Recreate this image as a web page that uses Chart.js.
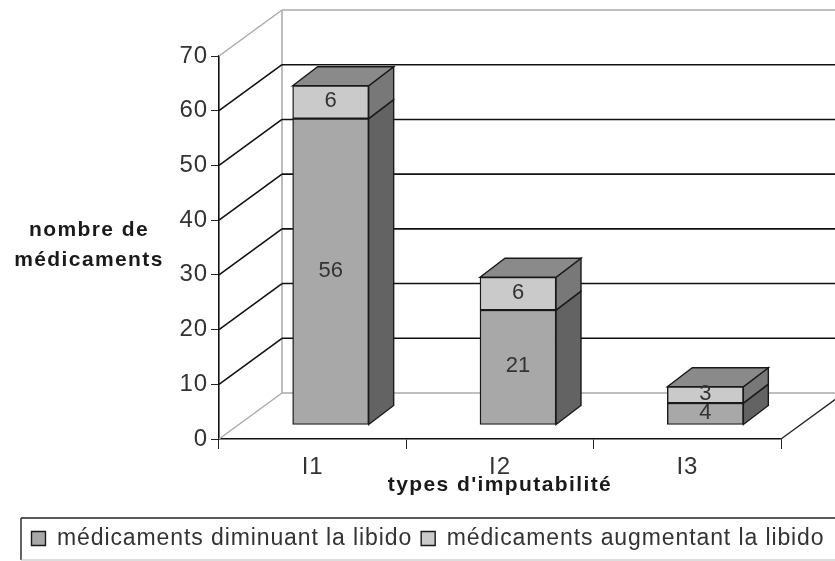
<!DOCTYPE html>
<html lang="fr">
<head>
<meta charset="utf-8">
<title>types d'imputabilité</title>
<script src="https://cdn.jsdelivr.net/npm/chart.js@4"></script>
<style>
  html, body { margin: 0; padding: 0; background: #fff; }
  canvas { display: block; }
</style>
</head>
<body>
<canvas id="chart" width="835" height="561"></canvas>
<script>
// data
const categories = ["I1", "I2", "I3"];
const diminuant = [56, 21, 4];
const augmentant = [6, 6, 3];
const seriesNames = ["médicaments diminuant la libido", "médicaments augmentant la libido"];
const yMax = 70;
const yStep = 10;
const yTitleLines = ["nombre de", "médicaments"];
const xTitle = "types d'imputabilité";

// fake 3D geometry
const WALL = { dx: 63, dy: -46 };
const BAR_SHIFT = { dx: 18, dy: -14 };
const DEPTH = { dx: 25, dy: -19 };
const FONT = '"Liberation Sans", Arial, sans-serif';
const INK = "#333";
const LEGEND_SPACING = "0.9px";

function line(ctx, x1, y1, x2, y2, color, width) {
  ctx.strokeStyle = color;
  ctx.lineWidth = width;
  ctx.beginPath();
  ctx.moveTo(x1, y1);
  ctx.lineTo(x2, y2);
  ctx.stroke();
}

function face(ctx, pts, fill) {
  ctx.fillStyle = fill;
  ctx.strokeStyle = "#1a1a1a";
  ctx.lineWidth = 1.4;
  ctx.beginPath();
  pts.forEach((p, i) => (i ? ctx.lineTo(p[0], p[1]) : ctx.moveTo(p[0], p[1])));
  ctx.closePath();
  ctx.fill();
  ctx.stroke();
}

const walls3d = {
  id: "walls3d",
  beforeLayout(chart) {
    chart.ctx.letterSpacing = LEGEND_SPACING;
  },
  beforeDatasetsDraw(chart) {
    const { ctx, scales } = chart;
    const y = scales.y;
    const left = chart.chartArea.left;
    const right = chart.chartArea.right;
    const backLeft = left + WALL.dx;
    ctx.save();
    line(ctx, backLeft, y.getPixelForValue(yMax) + WALL.dy, backLeft, y.getPixelForValue(0) + WALL.dy, "#999", 1.3);
    y.ticks.forEach((t) => {
      const py = y.getPixelForValue(t.value);
      const edge = t.value === 0 || t.value === yMax;
      const color = edge ? "#aaa" : "#111";
      const w = edge ? 1.5 : 1.6;
      line(ctx, left, py, backLeft, py + WALL.dy, color, w);
      line(ctx, backLeft, py + WALL.dy, chart.width, py + WALL.dy, color, w);
    });
    // right edge of the floor
    const floorY = y.getPixelForValue(0);
    line(ctx, right, floorY, right + WALL.dx, floorY + WALL.dy, "#222", 1.3);
    ctx.restore();

    // side and top faces, then the front bars get drawn shifted
    ctx.save();
    ctx.translate(BAR_SHIFT.dx, BAR_SHIFT.dy);
    const sides = ["#636363", "#787878"];
    chart.data.datasets.forEach((ds, di) => {
      chart.getDatasetMeta(di).data.forEach((el) => {
        const xr = el.x + el.width / 2;
        face(ctx, [[xr, el.base], [xr + DEPTH.dx, el.base + DEPTH.dy], [xr + DEPTH.dx, el.y + DEPTH.dy], [xr, el.y]], sides[di]);
      });
    });
    const lastMeta = chart.getDatasetMeta(chart.data.datasets.length - 1);
    lastMeta.data.forEach((el) => {
      const xl = el.x - el.width / 2;
      const xr = el.x + el.width / 2;
      face(ctx, [[xl, el.y], [xr, el.y], [xr + DEPTH.dx, el.y + DEPTH.dy], [xl + DEPTH.dx, el.y + DEPTH.dy]], "#8a8a8a");
    });
  },
  afterDatasetsDraw(chart) {
    const { ctx } = chart;
    // still inside the translate from beforeDatasetsDraw
    ctx.fillStyle = INK;
    ctx.font = "22px " + FONT;
    ctx.letterSpacing = "0px";
    ctx.textAlign = "center";
    ctx.textBaseline = "middle";
    chart.data.datasets.forEach((ds, di) => {
      chart.getDatasetMeta(di).data.forEach((el, i) => {
        ctx.fillText(String(ds.data[i]), el.x, (el.y + el.base) / 2 - 1);
      });
    });
    ctx.restore();
    ctx.letterSpacing = LEGEND_SPACING;
  },
  afterDraw(chart) {
    const { ctx, scales, legend } = chart;
    ctx.save();
    // axis titles
    ctx.fillStyle = "#1a1a1a";
    ctx.font = "bold 21px " + FONT;
    ctx.letterSpacing = "1.4px";
    ctx.textAlign = "center";
    ctx.textBaseline = "middle";
    ctx.fillText(xTitle, (scales.x.left + scales.x.right) / 2, scales.x.top + 46);
    yTitleLines.forEach((txt, i) => {
      ctx.fillText(txt, 89, scales.y.getPixelForValue(35) - 17 + i * 30);
    });
    ctx.letterSpacing = "0px";
    // legend frame: the scan cuts it off on the right
    const top = legend.top;
    const bottom = legend.bottom;
    line(ctx, legend.left, top, chart.width, top, "#222", 1.6);
    line(ctx, legend.left, top, legend.left, bottom, "#222", 1.4);
    line(ctx, legend.left, bottom, chart.width, bottom, "#bbb", 1.2);
    ctx.restore();
  }
};

new Chart(document.getElementById("chart"), {
  type: "bar",
  data: {
    labels: categories,
    datasets: [
      {
        label: seriesNames[0],
        data: diminuant,
        backgroundColor: "#a8a8a8",
        borderColor: "#1a1a1a",
        borderWidth: 1.4
      },
      {
        label: seriesNames[1],
        data: augmentant,
        backgroundColor: "#cacaca",
        borderColor: "#1a1a1a",
        borderWidth: 1.4
      }
    ]
  },
  plugins: [walls3d],
  options: {
    responsive: false,
    animation: false,
    layout: { padding: { left: 21, top: 56, right: 0, bottom: 1 } },
    datasets: { bar: { barThickness: 76, borderSkipped: false, clip: false } },
    plugins: {
      tooltip: { enabled: false },
      legend: {
        position: "bottom",
        onClick: null,
        labels: {
          color: INK,
          font: { family: FONT, size: 23 },
          boxWidth: 14,
          boxHeight: 14,
          padding: 9
        }
      }
    },
    scales: {
      x: {
        stacked: true,
        afterFit: (s) => { s.height = 79; },
        grid: { drawOnChartArea: false, color: "#222", tickLength: 10, offset: true },
        border: { color: "#111", width: 1.6 },
        ticks: { color: INK, font: { family: FONT, size: 24 }, padding: 4, maxRotation: 0 }
      },
      y: {
        stacked: true,
        min: 0,
        max: yMax,
        afterFit: (s) => { s.width = 198; },
        grid: { drawOnChartArea: false, color: "#222", tickLength: 8 },
        border: { color: "#111", width: 1.6 },
        ticks: { color: INK, stepSize: yStep, font: { family: FONT, size: 24 }, padding: 3 }
      },
      // empty axis, only keeps the room on the right of the plot
      spacer: {
        type: "linear",
        position: "right",
        afterFit: (s) => { s.width = 54; },
        grid: { display: false },
        border: { display: false },
        ticks: { display: false }
      }
    }
  }
});
</script>
</body>
</html>
